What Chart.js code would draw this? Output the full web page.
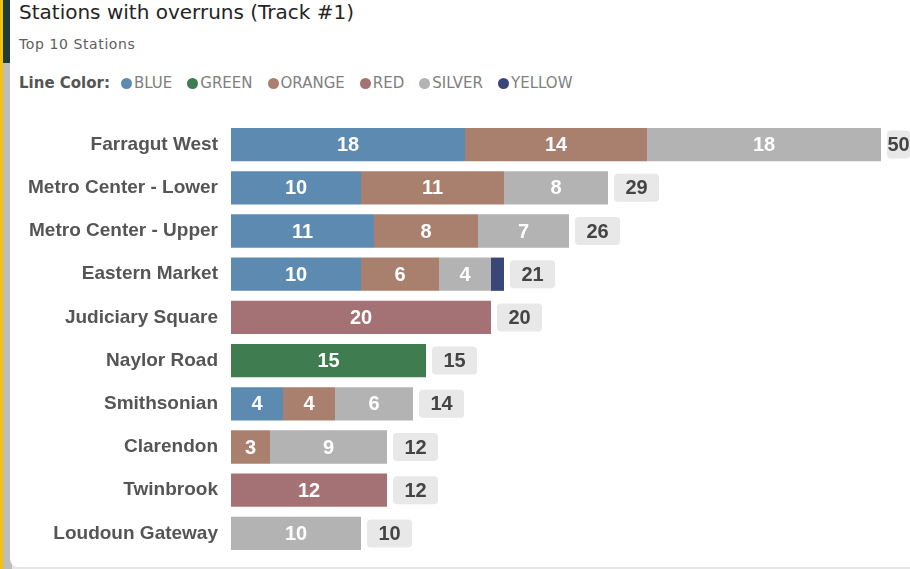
<!DOCTYPE html>
<html>
<head>
<meta charset="utf-8">
<script src="https://cdn.jsdelivr.net/npm/chart.js@4.4.0/dist/chart.umd.min.js"></script>
<style>
  html, body { margin: 0; padding: 0; }
  body { width: 910px; height: 569px; position: relative; overflow: hidden; background: #e6e6e6; }
  .strip-y { position: absolute; left: 0; top: 0; width: 3px; height: 569px; background: #f4c20d; }
  .strip-g { position: absolute; left: 3px; top: 0; width: 9px; height: 569px; background: #bdbdbd; }
  .strip-d { position: absolute; left: 3px; top: 0; width: 9px; height: 63px; background: #1f3b35; }
  .card { position: absolute; left: 10px; top: -10px; width: 920px; height: 577px; background: #fff; border-radius: 8px; }
  .title { position: absolute; left: 19px; top: 0px; font: 20px "DejaVu Sans", sans-serif; color: #252423; white-space: nowrap; }
  .sub { position: absolute; left: 19px; top: 36px; font: 14px "DejaVu Sans", sans-serif; letter-spacing: 0.6px; color: #605e5c; white-space: nowrap; }
  .legend { position: absolute; left: 19px; top: 74px; font: 15px "DejaVu Sans", sans-serif; color: #808080; display: flex; align-items: center; white-space: nowrap; }
  .legend b { color: #555; margin-right: 11px; }
  .legend span { display: flex; align-items: center; margin-right: 15px; }
  .legend i { display: inline-block; width: 11px; height: 11px; border-radius: 50%; margin-right: 2px; }
  canvas { position: absolute; left: 0; top: 110px; }
</style>
</head>
<body>
<div class="strip-y"></div>
<div class="strip-g"></div>
<div class="strip-d"></div>
<div class="card"></div>
<div class="title">Stations with overruns (Track #1)</div>
<div class="sub">Top 10 Stations</div>
<div class="legend" id="legend"><b>Line Color:</b></div>
<canvas id="bars" width="910" height="450"></canvas>
<script>
const stations = ['Farragut West', 'Metro Center - Lower', 'Metro Center - Upper', 'Eastern Market',
  'Judiciary Square', 'Naylor Road', 'Smithsonian', 'Clarendon', 'Twinbrook', 'Loudoun Gateway'];
const blue   = [18, 10, 11, 10, null, null, 4, null, null, null];
const green  = [null, null, null, null, null, 15, null, null, null, null];
const orange = [14, 11, 8, 6, null, null, 4, 3, null, null];
const red    = [null, null, null, null, 20, null, null, null, 12, null];
const silver = [18, 8, 7, 4, null, null, 6, 9, null, 10];
const yellow = [null, null, null, 1, null, null, null, null, null, null];

const lineNames  = ['BLUE', 'GREEN', 'ORANGE', 'RED', 'SILVER', 'YELLOW'];
const lineValues = [blue, green, orange, red, silver, yellow];
const lineColors = ['#5d8ab1', '#3f7c50', '#a97f6d', '#a47274', '#b3b3b3', '#3a4677'];

const totals = stations.map((s, i) => lineValues.reduce((sum, arr) => sum + (arr[i] || 0), 0));

// legend row
const legend = document.getElementById('legend');
lineNames.forEach((name, i) => {
  const el = document.createElement('span');
  el.innerHTML = '<i style="background:' + lineColors[i] + '"></i>' + name;
  legend.appendChild(el);
});

const barFont = 'bold 20px "Liberation Sans", Arial, sans-serif';

const barLabels = {
  id: 'barLabels',
  afterDatasetsDraw(chart) {
    const ctx = chart.ctx;
    ctx.save();
    ctx.font = barFont;
    ctx.textAlign = 'center';
    ctx.textBaseline = 'middle';
    chart.data.datasets.forEach((ds, i) => {
      chart.getDatasetMeta(i).data.forEach((bar, j) => {
        const v = ds.data[j];
        if (!v) return;
        if (Math.abs(bar.x - bar.base) < 20) return;
        ctx.fillStyle = '#ffffff';
        ctx.fillText(String(v), (bar.x + bar.base) / 2, bar.y + 1);
      });
    });
    // totals at the end of each bar
    const xs = chart.scales.x, ys = chart.scales.y;
    totals.forEach((t, j) => {
      const left = xs.getPixelForValue(t) + 6;
      const y = ys.getPixelForValue(j);
      let w = 45;
      if (left + w > chart.width) w = chart.width - left;
      ctx.fillStyle = '#e8e8e8';
      ctx.beginPath();
      ctx.roundRect(left, y - 14, w, 28, 4);
      ctx.fill();
      ctx.fillStyle = '#444444';
      ctx.fillText(String(t), left + w / 2, y + 1);
    });
    ctx.restore();
  }
};

new Chart(document.getElementById('bars'), {
  type: 'bar',
  data: {
    labels: stations,
    datasets: lineNames.map((name, i) => ({
      label: name,
      data: lineValues[i],
      backgroundColor: lineColors[i],
      borderWidth: 0,
      barPercentage: 0.77,
      categoryPercentage: 1
    }))
  },
  options: {
    indexAxis: 'y',
    responsive: false,
    animation: false,
    devicePixelRatio: 1,
    layout: { padding: { left: 0, right: 29, top: 13, bottom: 5 } },
    plugins: { legend: { display: false }, tooltip: { enabled: false } },
    scales: {
      x: { stacked: true, display: false, min: 0, max: 50 },
      y: {
        stacked: true,
        grid: { display: false, drawTicks: false },
        border: { display: false },
        afterFit: (scale) => {
          scale.width = 231;
          scale.paddingTop = 0;
          scale.paddingBottom = 0;
        },
        ticks: {
          padding: 13,
          color: '#555555',
          font: { family: '"Liberation Sans", Arial, sans-serif', size: 19, weight: 'bold' }
        }
      }
    }
  },
  plugins: [barLabels]
});
</script>
</body>
</html>
